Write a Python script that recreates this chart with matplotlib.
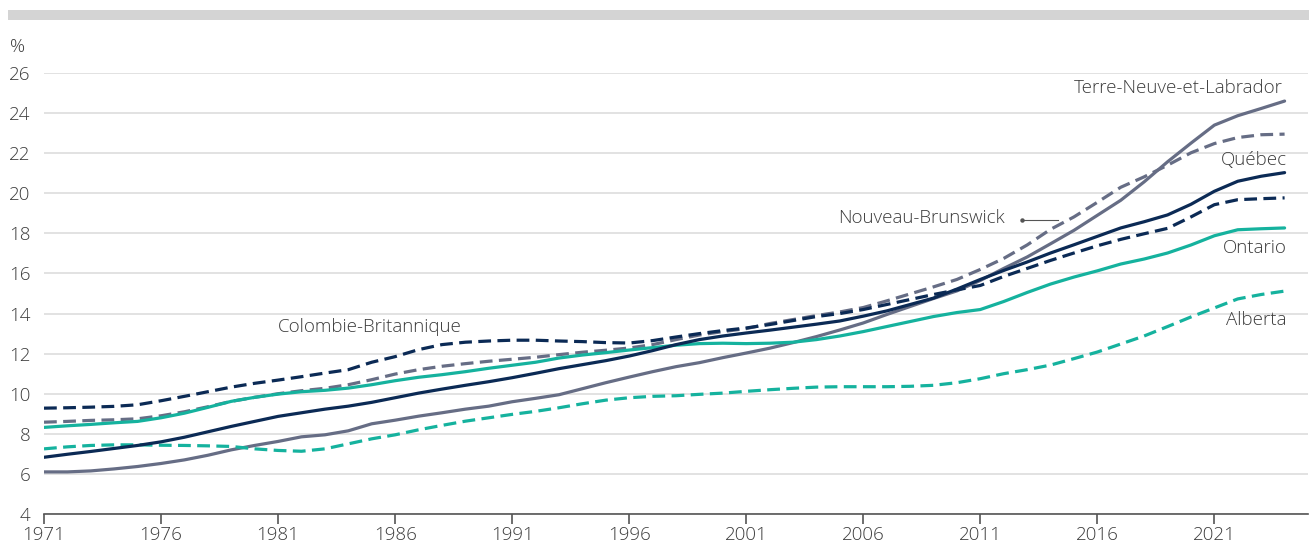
import matplotlib as mpl
import matplotlib.pyplot as plt
from matplotlib.patches import Rectangle

# ------------------------------------------------------------
# data: share of population (%), 1971-2024
# ------------------------------------------------------------
years = list(range(1971, 2025))

terre_neuve = [
    6.10, 6.10, 6.15, 6.25, 6.37, 6.52, 6.70, 6.93, 7.20, 7.42,
    7.62, 7.85, 7.95, 8.15, 8.50, 8.68, 8.88, 9.05, 9.23, 9.38,
    9.60, 9.77, 9.95, 10.25, 10.55, 10.83, 11.10, 11.35, 11.55, 11.80,
    12.03, 12.27, 12.55, 12.85, 13.18, 13.53, 13.95, 14.35, 14.75, 15.13,
    15.65, 16.25, 16.82, 17.48, 18.15, 18.90, 19.65, 20.57, 21.57, 22.50,
    23.40, 23.87, 24.23, 24.60,
]
nouveau_brunswick = [
    8.58, 8.62, 8.67, 8.70, 8.75, 8.90, 9.10, 9.35, 9.62, 9.82,
    10.00, 10.15, 10.27, 10.45, 10.70, 10.98, 11.20, 11.37, 11.50, 11.62,
    11.72, 11.82, 11.95, 12.07, 12.17, 12.28, 12.45, 12.70, 12.93, 13.10,
    13.25, 13.50, 13.70, 13.90, 14.08, 14.30, 14.63, 14.98, 15.33, 15.70,
    16.20, 16.75, 17.42, 18.20, 18.82, 19.55, 20.30, 20.82, 21.40, 22.02,
    22.48, 22.78, 22.92, 22.95,
]
quebec = [
    6.83, 6.98, 7.12, 7.27, 7.42, 7.60, 7.83, 8.10, 8.37, 8.62,
    8.87, 9.05, 9.23, 9.38, 9.57, 9.80, 10.03, 10.23, 10.42, 10.60,
    10.80, 11.02, 11.25, 11.45, 11.65, 11.88, 12.15, 12.45, 12.70, 12.88,
    13.03, 13.17, 13.32, 13.47, 13.63, 13.87, 14.13, 14.45, 14.77, 15.22,
    15.70, 16.15, 16.57, 17.02, 17.43, 17.85, 18.27, 18.58, 18.92, 19.45,
    20.10, 20.60, 20.85, 21.03,
]
colombie_britannique = [
    9.28, 9.30, 9.33, 9.37, 9.45, 9.65, 9.87, 10.10, 10.33, 10.52,
    10.68, 10.85, 11.03, 11.20, 11.57, 11.85, 12.20, 12.45, 12.57, 12.63,
    12.67, 12.67, 12.63, 12.60, 12.55, 12.53, 12.65, 12.83, 13.00, 13.15,
    13.28, 13.45, 13.65, 13.85, 14.00, 14.20, 14.45, 14.70, 14.95, 15.18,
    15.40, 15.85, 16.25, 16.65, 17.02, 17.38, 17.70, 17.98, 18.25, 18.82,
    19.43, 19.68, 19.73, 19.77,
]
ontario = [
    8.32, 8.40, 8.47, 8.55, 8.62, 8.80, 9.03, 9.32, 9.62, 9.82,
    9.98, 10.10, 10.17, 10.28, 10.45, 10.65, 10.82, 10.95, 11.10, 11.27,
    11.42, 11.57, 11.78, 11.93, 12.05, 12.18, 12.30, 12.42, 12.50, 12.52,
    12.50, 12.52, 12.57, 12.70, 12.88, 13.10, 13.35, 13.60, 13.85, 14.05,
    14.20, 14.60, 15.05, 15.47, 15.82, 16.13, 16.47, 16.72, 17.02, 17.42,
    17.88, 18.18, 18.23, 18.27,
]
alberta = [
    7.25, 7.35, 7.42, 7.45, 7.45, 7.43, 7.42, 7.40, 7.37, 7.25,
    7.17, 7.13, 7.25, 7.50, 7.75, 7.95, 8.20, 8.42, 8.63, 8.80,
    8.97, 9.12, 9.30, 9.50, 9.68, 9.80, 9.87, 9.90, 9.97, 10.03,
    10.12, 10.20, 10.27, 10.33, 10.35, 10.35, 10.35, 10.37, 10.42, 10.55,
    10.75, 11.00, 11.20, 11.43, 11.75, 12.08, 12.48, 12.88, 13.35, 13.83,
    14.28, 14.73, 14.95, 15.12,
]

x_ticks = list(range(1971, 2022, 5))
y_ticks = list(range(4, 27, 2))

# ------------------------------------------------------------
# style
# ------------------------------------------------------------
NAVY = '#0b2a55'
GREY = '#666d85'
TEAL = '#15b29e'
TEXT = '#3c3c3c'
FS = 13.5

plt.rcParams['font.family'] = ['Open Sans', 'DejaVu Sans']
plt.rcParams['font.weight'] = 'light'
plt.rcParams['font.size'] = FS
DASH = (0, (4, 2))

fig = plt.figure(figsize=(13.09, 5.46), dpi=100)
ax = fig.add_axes((44 / 1309, 1 - 514 / 546, 1264 / 1309, 441 / 546))

# grey band across the top
fig.add_artist(Rectangle((8 / 1309, 1 - 20 / 546), 1 - 8 / 1309, 10 / 546,
                         transform=fig.transFigure, color='#d4d4d4', lw=0))

series = [
    (terre_neuve, GREY, '-'),
    (nouveau_brunswick, GREY, DASH),
    (ontario, TEAL, '-'),
    (alberta, TEAL, DASH),
    (quebec, NAVY, '-'),
    (colombie_britannique, NAVY, DASH),
]
for vals, col, ls in series:
    ax.plot(years, vals, color=col, linestyle=ls, lw=2.3,
            solid_capstyle='round', dash_capstyle='butt', zorder=3)

ax.set_xlim(1971, 2025)
ax.set_ylim(4, 26)
ax.set_xticks(x_ticks)
ax.set_yticks(y_ticks)
ax.grid(axis='y', color='#e2e2e2', lw=1.4, zorder=0)
ax.set_axisbelow(True)

for s in ('top', 'right', 'left'):
    ax.spines[s].set_visible(False)
ax.spines['bottom'].set_color('#555555')
ax.spines['bottom'].set_linewidth(1.2)
ax.spines['bottom'].set_zorder(4)

ax.tick_params(axis='x', length=7, width=1.2, color='#555555',
               labelcolor=TEXT, labelsize=FS, pad=2)
ax.tick_params(axis='y', length=0, labelcolor=TEXT, labelsize=FS, pad=9.5)

fig.text(10 / 1309, 1 - 47 / 546, '%', color=TEXT, fontsize=FS,
         ha='left', va='center')

# series labels
lab = dict(color=TEXT, fontsize=FS, va='center')
ax.text(2023.9, 25.25, 'Terre-Neuve-et-Labrador', ha='right', **lab)
ax.text(2024.1, 21.66, 'Québec', ha='right', **lab)
ax.text(2024.1, 17.27, 'Ontario', ha='right', **lab)
ax.text(2024.1, 13.68, 'Alberta', ha='right', **lab)
ax.text(1984.9, 13.33, 'Colombie-Britannique', ha='center', **lab)
ax.text(2012.05, 18.76, 'Nouveau-Brunswick', ha='right', **lab)

# leader line for Nouveau-Brunswick
ax.plot([2012.8, 2014.3], [18.66, 18.66], color='#555555', lw=0.8, zorder=2)
ax.plot([2012.8], [18.66], 'o', color='#555555', ms=2.2, zorder=2)

fig.savefig('out.png', dpi=100)
